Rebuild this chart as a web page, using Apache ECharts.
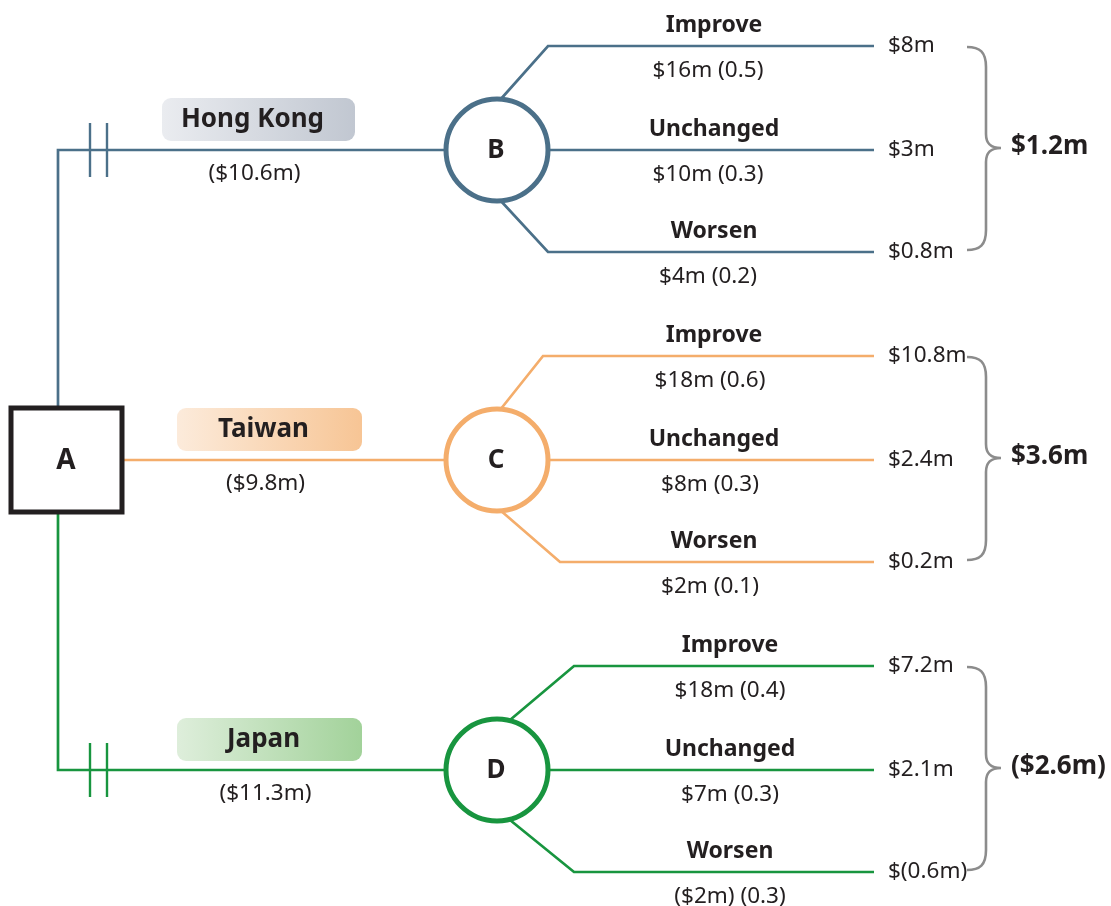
<!DOCTYPE html>
<html>
<head>
<meta charset="utf-8">
<script src="https://cdn.jsdelivr.net/npm/echarts@6.0.0/dist/echarts.min.js"></script>
<style>
  html, body { margin: 0; padding: 0; background: #fff; }
  #chart { width: 1111px; height: 906px; }
</style>
</head>
<body>
<div id="chart"></div>
<script>
// decision tree data
const regions = ['Hong Kong', 'Taiwan', 'Japan'];
const chanceNodes = ['B', 'C', 'D'];
const regionCost = [-10.6, -9.8, -11.3];
const outcomes = ['Improve', 'Unchanged', 'Worsen'];
const grossReturn = [[16, 10, 4], [18, 8, 2], [18, 7, -2]];
const probability = [[0.5, 0.3, 0.2], [0.6, 0.3, 0.1], [0.4, 0.3, 0.3]];
const weightedValue = [[8, 3, 0.8], [10.8, 2.4, 0.2], [7.2, 2.1, -0.6]];
const expectedValue = [1.2, 3.6, -2.6];
const rejected = [true, false, true];

// styles
const colors = ['#4b7089', '#f4ad6b', '#18953f'];
const boxFills = [['#eaecf0', '#c1c7d1'], ['#fcebdb', '#f7c595'], ['#deeedb', '#a2d29a']];
const textColor = '#231f20';
const braceColor = '#8c8c8c';
const FONT = '"Noto Sans", "Open Sans", sans-serif';

// layout (axis units = pixels)
const ROW_Y0 = 150, ROW_GAP = 310;
const BRANCH_DY = [-104, 0, 102];
const TRUNK_X = 58, NODE_X = 497, NODE_R = 51, LINE_END = 874;
const boxX = [[162, 355], [177, 362], [177, 362]];
const kneeX = [[548, 0, 548], [543, 0, 560], [574, 0, 574]];
const startDx = [3, 3, 13];
const nameX = [714, 714, 730];
const detailX = [708, 710, 730];

const rowY = i => ROW_Y0 + ROW_GAP * i;
const money = v => (v < 0 ? '($' + Math.abs(v) + 'm)' : '$' + v + 'm');
const moneyEnd = v => (v < 0 ? '$(' + Math.abs(v) + 'm)' : '$' + v + 'm');

function txt(p, text, size, weight, align) {
  return {
    type: 'text', x: p[0], y: p[1], silent: true,
    style: {
      text: text, fill: textColor, align: align || 'center', verticalAlign: 'middle',
      font: (weight || 'normal') + ' ' + size + 'px ' + FONT
    }
  };
}
function poly(pts, color, width) {
  return { type: 'polyline', shape: { points: pts }, style: { stroke: color, lineWidth: width, fill: null } };
}

function renderRoot(params, api) {
  const tl = api.coord([11, 408]);
  const br = api.coord([122, 512]);
  return {
    type: 'group', children: [
      { type: 'rect', shape: { x: tl[0], y: tl[1], width: br[0] - tl[0], height: br[1] - tl[1] },
        style: { fill: '#fff', stroke: textColor, lineWidth: 5 } },
      txt(api.coord([66, 461]), 'A', 28, 'bold')
    ]
  };
}

function renderRegion(params, api) {
  const i = api.value(0);
  const cy = rowY(i);
  const c = colors[i];
  const P = (x, y) => api.coord([x, y]);
  const children = [];
  if (i === 0) children.push(poly([P(TRUNK_X, 406), P(TRUNK_X, cy), P(NODE_X - NODE_R, cy)], c, 2.7));
  else if (i === 2) children.push(poly([P(TRUNK_X, 512), P(TRUNK_X, cy), P(NODE_X - NODE_R, cy)], c, 2.7));
  else children.push(poly([P(122, cy), P(NODE_X - NODE_R, cy)], c, 2.7));
  if (rejected[i]) {
    [90, 107].forEach(x => children.push(poly([P(x, cy - 27), P(x, cy + 27)], c, 2.4)));
  }
  const b0 = P(boxX[i][0], cy - 52), b1 = P(boxX[i][1], cy - 9);
  children.push({
    type: 'rect', shape: { x: b0[0], y: b0[1], width: b1[0] - b0[0], height: b1[1] - b0[1], r: 9 },
    style: { fill: new echarts.graphic.LinearGradient(0, 0, 1, 0, [
      { offset: 0, color: boxFills[i][0] }, { offset: 1, color: boxFills[i][1] }]) }
  });
  const mid = (boxX[i][0] + boxX[i][1]) / 2 - 6;
  children.push(txt(P(mid, cy - 30), regions[i], 26, 'bold'));
  children.push(txt(P(mid + 2, cy + 24), money(regionCost[i]), 22.5));
  const n = P(NODE_X, cy);
  children.push({ type: 'circle', shape: { cx: n[0], cy: n[1], r: NODE_R }, style: { fill: '#fff', stroke: c, lineWidth: 5 } });
  children.push(txt(P(NODE_X - 1, cy + 1), chanceNodes[i], 26, 'bold'));
  return { type: 'group', children: children };
}

function renderOutcome(params, api) {
  const i = api.value(0), j = api.value(1);
  const cy = rowY(i), oy = cy + BRANCH_DY[j];
  const c = colors[i];
  const P = (x, y) => api.coord([x, y]);
  const children = [];
  if (j === 1) {
    children.push(poly([P(NODE_X + NODE_R - 2, oy), P(LINE_END, oy)], c, 2.7));
  } else {
    const sy = cy + (j === 0 ? -1 : 1) * (NODE_R - 1);
    children.push(poly([P(NODE_X + startDx[i], sy), P(kneeX[i][j], oy), P(LINE_END, oy)], c, 2.7));
  }
  children.push(txt(P(nameX[i], oy - 21), outcomes[j], 23, 'bold'));
  children.push(txt(P(detailX[i], oy + 25), money(grossReturn[i][j]) + ' (' + probability[i][j].toFixed(1) + ')', 22.5));
  children.push(txt(P(888, oy), moneyEnd(weightedValue[i][j]), 22.5, 'normal', 'left'));
  return { type: 'group', children: children };
}

function renderBrace(params, api) {
  const i = api.value(0);
  const cy = rowY(i);
  const top = cy - 103, bot = cy + 100, mid = cy - 2;
  const X0 = 967, XV = 986, XP = 1001;
  const pts = [
    ['M', X0, top], ['C', 980, top, XV, top + 5, XV, top + 20],
    ['L', XV, mid - 14], ['C', XV, mid - 4, 991, mid, XP, mid],
    ['C', 991, mid, XV, mid + 4, XV, mid + 14],
    ['L', XV, bot - 20], ['C', XV, bot - 5, 980, bot, X0, bot]
  ];
  let d = '';
  pts.forEach(seg => {
    d += seg[0];
    for (let k = 1; k < seg.length; k += 2) {
      const p = api.coord([seg[k], seg[k + 1]]);
      d += ' ' + p[0].toFixed(1) + ' ' + p[1].toFixed(1);
    }
    d += ' ';
  });
  return {
    type: 'group', children: [
      { type: 'path', shape: { pathData: d }, style: { stroke: braceColor, lineWidth: 2.6, fill: null } },
      txt(api.coord([1011, cy - 3]), money(expectedValue[i]), 26, 'bold', 'left')
    ]
  };
}

const outcomeItems = [];
regions.forEach((r, i) => outcomes.forEach((o, j) => outcomeItems.push([i, j])));

const chart = echarts.init(document.getElementById('chart'));
chart.setOption({
  animation: false,
  grid: { left: 0, right: 0, top: 0, bottom: 0 },
  xAxis: { type: 'value', min: 0, max: 1111, show: false },
  yAxis: { type: 'value', min: 0, max: 906, inverse: true, show: false },
  series: [
    { type: 'custom', z: 2, silent: true, renderItem: renderOutcome, data: outcomeItems },
    { type: 'custom', z: 3, silent: true, renderItem: renderRegion, data: regions.map((r, i) => [i, 0]) },
    { type: 'custom', z: 3, silent: true, renderItem: renderBrace, data: regions.map((r, i) => [i, 0]) },
    { type: 'custom', z: 4, silent: true, renderItem: renderRoot, data: [[0, 0]] }
  ]
});
window.addEventListener('resize', chart.resize);
</script>
</body>
</html>
